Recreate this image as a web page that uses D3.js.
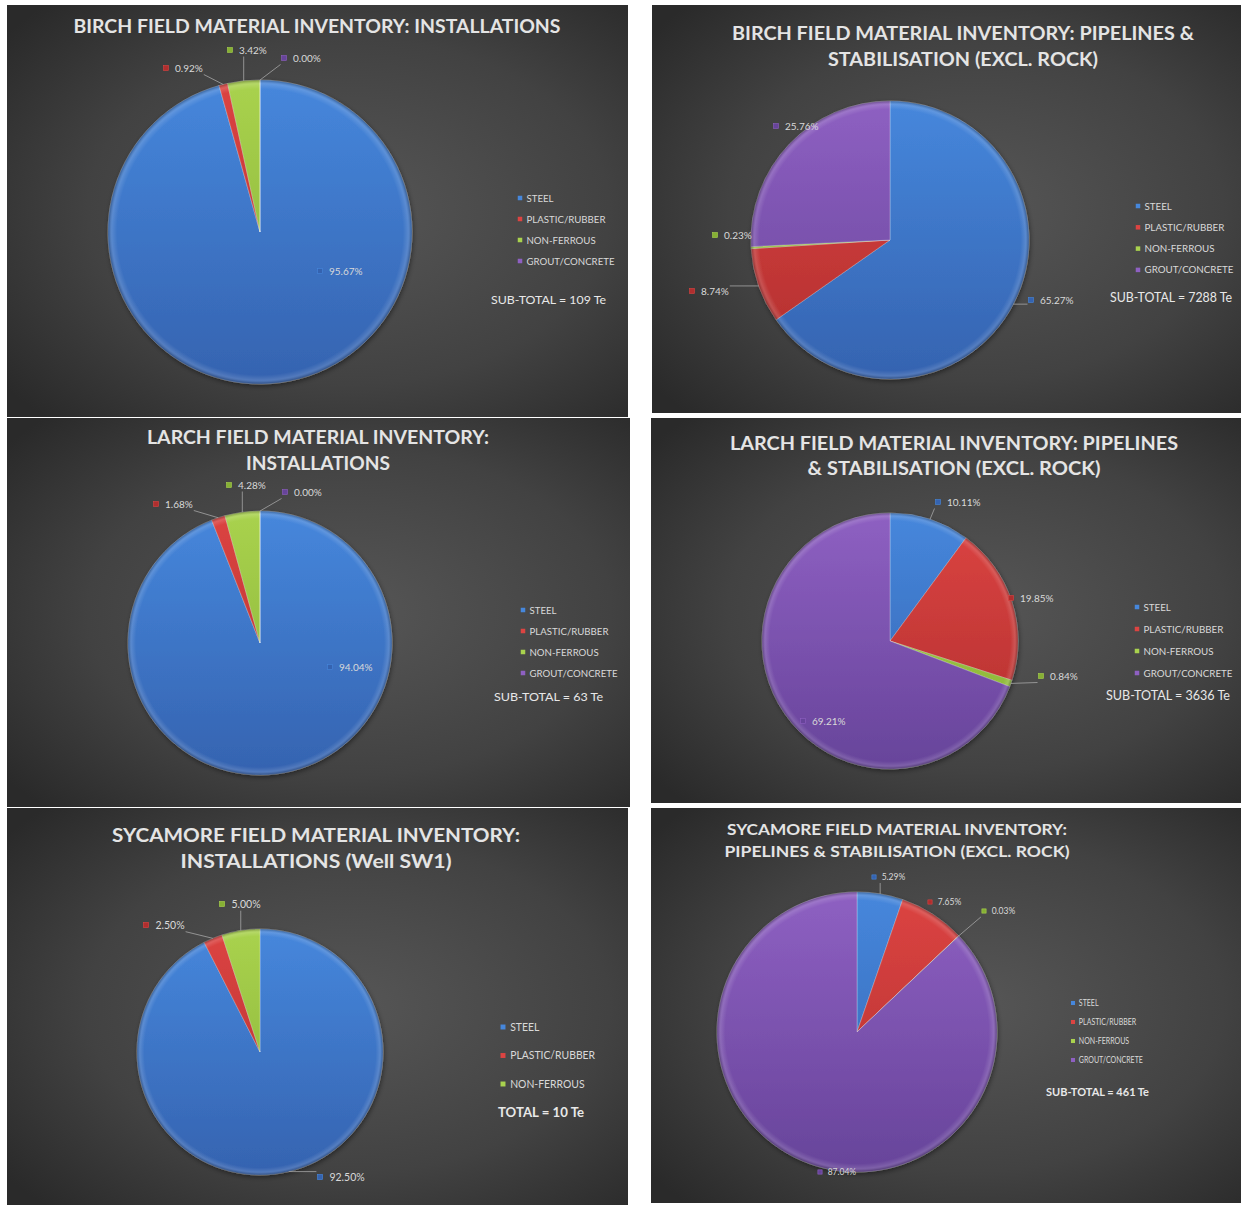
<!DOCTYPE html>
<html>
<head>
<meta charset="utf-8">
<script src="https://cdn.jsdelivr.net/npm/d3@7"></script>
<style>
  html, body { margin: 0; padding: 0; background: #ffffff; }
  svg { display: block; }
  text { font-family: Lato, "Open Sans", "Liberation Sans", sans-serif; }
</style>
</head>
<body>
<svg id="chart" width="1241" height="1205"></svg>
<script>
// ---------------- DATA ----------------
const categories = ["STEEL", "PLASTIC/RUBBER", "NON-FERROUS", "GROUT/CONCRETE"];

const birchInstallValues  = [95.67, 0.92, 3.42, 0.00];
const birchPipelineValues = [65.27, 8.74, 0.23, 25.76];
const larchInstallValues  = [94.04, 1.68, 4.28, 0.00];
const larchPipelineValues = [10.11, 19.85, 0.84, 69.21];
const sycamoreInstallValues  = [92.50, 2.50, 5.00];
const sycamorePipelineValues = [5.29, 7.65, 0.03, 87.04];

const birchInstallTitle  = ["BIRCH FIELD MATERIAL INVENTORY: INSTALLATIONS"];
const birchPipelineTitle = ["BIRCH FIELD MATERIAL INVENTORY: PIPELINES &", "STABILISATION (EXCL. ROCK)"];
const larchInstallTitle  = ["LARCH FIELD MATERIAL INVENTORY:", "INSTALLATIONS"];
const larchPipelineTitle = ["LARCH FIELD MATERIAL INVENTORY: PIPELINES", "& STABILISATION (EXCL. ROCK)"];
const sycamoreInstallTitle  = ["SYCAMORE FIELD MATERIAL INVENTORY:", "INSTALLATIONS (Well SW1)"];
const sycamorePipelineTitle = ["SYCAMORE FIELD MATERIAL INVENTORY:", "PIPELINES & STABILISATION (EXCL. ROCK)"];

const totalLabels = ["SUB-TOTAL = 109 Te", "SUB-TOTAL = 7288 Te", "SUB-TOTAL = 63 Te",
                     "SUB-TOTAL = 3636 Te", "TOTAL = 10 Te", "SUB-TOTAL = 461 Te"];

// ---------------- STYLE / LAYOUT ----------------
const colorTop    = ["#4687dc", "#dc4442", "#a9d24e", "#8e60c2"];
const colorBottom = ["#3563b0", "#b02e2e", "#86b034", "#67449a"];

// label layout: [dx, dy] of the marker relative to pie centre, and whether a leader line is drawn
const layouts = [
  { rect:[7,5,621,412], cx:260, cy:232, r:152,
    title:{ys:[33], widths:[487], x:317, size:18},
    legend:{x:520, y0:198, step:21, size:10, width:88, longest:"GROUT/CONCRETE"},
    total:{x:491, y:300, size:12, width:115},
    labelSize:10,
    labels:[[60,39,false],[-94,-164,true],[-30,-182,true],[24,-174,true]] },
  { rect:[652,5,589,408], cx:890, cy:240, r:139,
    title:{ys:[40,66], widths:[462,270], x:963, size:18},
    legend:{x:1138, y0:206, step:21.3, size:10, width:89, longest:"GROUT/CONCRETE"},
    total:{x:1110, y:298, size:12.5, width:122},
    labelSize:10,
    labels:[[141,60,true],[-198,51,true],[-175,-5,false],[-114,-114,false]] },
  { rect:[7,418,623,389], cx:260, cy:643, r:132,
    title:{ys:[444,470], widths:[342,144], x:318, size:18},
    legend:{x:523, y0:610, step:21, size:10, width:88, longest:"GROUT/CONCRETE"},
    total:{x:494, y:697, size:12, width:109},
    labelSize:10,
    labels:[[70,24,false],[-104,-139,true],[-31,-158,true],[25,-151,true]] },
  { rect:[651,418,590,385], cx:890, cy:641, r:128,
    title:{ys:[450,475], widths:[448,293], x:954, size:18},
    legend:{x:1137, y0:607, step:22, size:10, width:89, longest:"GROUT/CONCRETE"},
    total:{x:1106, y:696, size:12.5, width:124},
    labelSize:10,
    labels:[[48,-139,true],[121,-43,false],[151,35,true],[-87,80,false]] },
  { rect:[7,808,621,397], cx:260, cy:1052, r:123,
    title:{ys:[842,868], widths:[408,271], x:316, size:18},
    legend:{x:503, y0:1027, step:28.5, size:11, width:85, longest:"PLASTIC/RUBBER"},
    total:{x:498, y:1113, size:12.5, width:86, bold:true},
    labelSize:10.5,
    labels:[[60,125,true],[-114,-127,true],[-38,-148,true]] },
  { rect:[651,808,590,395], cx:857, cy:1032, r:140,
    title:{ys:[835,857], widths:[340,345], x:897, size:15.5},
    legend:{x:1073, y0:1003, step:19, size:9, width:64, longest:"GROUT/CONCRETE"},
    total:{x:1046, y:1092, size:11, width:103, bold:true},
    labelSize:8.5,
    labels:[[17,-155,true],[73,-130,false],[127,-121,true],[-37,140,false]] }
];

const panelValues = [birchInstallValues, birchPipelineValues, larchInstallValues,
                     larchPipelineValues, sycamoreInstallValues, sycamorePipelineValues];
const panelTitles = [birchInstallTitle, birchPipelineTitle, larchInstallTitle,
                     larchPipelineTitle, sycamoreInstallTitle, sycamorePipelineTitle];

// ---------------- DRAW ----------------
const svg = d3.select("#chart");
svg.append("rect").attr("width", 1241).attr("height", 1205).attr("fill", "#ffffff");
const defs = svg.append("defs");

const bg = defs.append("radialGradient").attr("id", "bgGrad")
  .attr("cx", "55%").attr("cy", "50%").attr("r", "70%");
bg.append("stop").attr("offset", "0%").attr("stop-color", "#565656");
bg.append("stop").attr("offset", "60%").attr("stop-color", "#424242");
bg.append("stop").attr("offset", "100%").attr("stop-color", "#2a2a2a");

const rim = defs.append("radialGradient").attr("id", "rimGrad")
  .attr("cx", "50%").attr("cy", "50%").attr("r", "50%");
rim.append("stop").attr("offset", "0%").attr("stop-color", "#fff").attr("stop-opacity", 0);
rim.append("stop").attr("offset", "94%").attr("stop-color", "#fff").attr("stop-opacity", 0);
rim.append("stop").attr("offset", "97.5%").attr("stop-color", "#fff").attr("stop-opacity", 0.14);
rim.append("stop").attr("offset", "100%").attr("stop-color", "#000").attr("stop-opacity", 0.3);

const shadow = defs.append("filter").attr("id", "shadow")
  .attr("x", "-20%").attr("y", "-20%").attr("width", "140%").attr("height", "140%");
shadow.append("feDropShadow").attr("dx", 1).attr("dy", 2).attr("stdDeviation", 2.5)
  .attr("flood-color", "#000").attr("flood-opacity", 0.45);

const pct = d3.format(".2f");
const pie = d3.pie().sort(null).value(d => d);

function fit(sel, w) {
  sel.attr("textLength", w).attr("lengthAdjust", "spacingAndGlyphs");
}

layouts.forEach((L, pi) => {
  const values = panelValues[pi];
  const g = svg.append("g");
  g.append("rect").attr("x", L.rect[0]).attr("y", L.rect[1])
    .attr("width", L.rect[2]).attr("height", L.rect[3]).attr("fill", "url(#bgGrad)");

  // title
  panelTitles[pi].forEach((line, i) => {
    const t = g.append("text").attr("x", L.title.x).attr("y", L.title.ys[i])
      .attr("text-anchor", "middle").attr("font-weight", 700)
      .attr("font-size", L.title.size).attr("fill", "#e4e4e4").text(line);
    fit(t, L.title.widths[i]);
  });

  // gradients for this pie (in the pie group's local coordinates)
  values.forEach((v, i) => {
    const lg = defs.append("linearGradient").attr("id", `g${pi}_${i}`)
      .attr("gradientUnits", "userSpaceOnUse")
      .attr("x1", 0).attr("x2", 0).attr("y1", -L.r).attr("y2", L.r);
    lg.append("stop").attr("offset", "0%").attr("stop-color", colorTop[i]);
    lg.append("stop").attr("offset", "100%").attr("stop-color", colorBottom[i]);
  });

  const arcs = pie(values);
  const arc = d3.arc().innerRadius(0).outerRadius(L.r);
  const pg = g.append("g").attr("transform", `translate(${L.cx},${L.cy})`);
  const slices = pg.append("g").attr("filter", "url(#shadow)");
  slices.selectAll("path").data(arcs).join("path")
    .attr("d", arc)
    .attr("fill", (d, i) => `url(#g${pi}_${i})`)
    .attr("stroke", "rgba(255,255,255,0.25)").attr("stroke-width", 1)
    .attr("stroke-linejoin", "round");
  pg.append("circle").attr("r", L.r).attr("fill", "url(#rimGrad)").attr("pointer-events", "none");

  // data labels
  arcs.forEach((d, i) => {
    const [dx, dy, leader] = L.labels[i];
    const mx = L.cx + dx, my = L.cy + dy;
    const lab = g.append("g");
    const ms = L.labelSize * 0.5;
    lab.append("rect").attr("x", mx - ms / 2).attr("y", my - ms / 2)
      .attr("width", ms).attr("height", ms).attr("fill", colorBottom[i])
      .attr("stroke", colorTop[i]).attr("stroke-width", 0.6);
    lab.append("text").attr("x", mx + L.labelSize * 0.9).attr("y", my)
      .attr("dy", "0.35em").attr("font-size", L.labelSize).attr("fill", "#d9d9d9")
      .text(pct(d.data) + "%");
    if (leader) {
      const a = (d.startAngle + d.endAngle) / 2;
      const tx = L.cx + Math.sin(a) * L.r, ty = L.cy - Math.cos(a) * L.r;
      const bb = lab.node().getBBox();
      const x0 = bb.x - 1, x1 = bb.x + bb.width + 1, y0 = bb.y - 1, y1 = bb.y + bb.height + 1;
      const sx = Math.max(x0, Math.min(x1, tx)), sy = Math.max(y0, Math.min(y1, ty));
      g.append("line").attr("x1", sx).attr("y1", sy).attr("x2", tx).attr("y2", ty)
        .attr("stroke", "#a6a6a6").attr("stroke-width", 0.8);
    }
  });

  // legend
  const lgG = g.append("g");
  const longestIdx = categories.indexOf(L.legend.longest);
  values.forEach((v, i) => {
    const y = L.legend.y0 + i * L.legend.step;
    const ms = L.legend.size * 0.45;
    lgG.append("rect").attr("x", L.legend.x - ms / 2).attr("y", y - ms / 2)
      .attr("width", ms).attr("height", ms).attr("fill", colorTop[i]);
    lgG.append("text").attr("class", "leg")
      .attr("x", L.legend.x + L.legend.size * 0.65).attr("y", y).attr("dy", "0.35em")
      .attr("font-size", L.legend.size).attr("fill", "#d9d9d9").text(categories[i]);
  });
  // scale legend texts uniformly so the longest matches the reference width
  const texts = lgG.selectAll("text.leg").nodes();
  const ref = texts[longestIdx].getComputedTextLength();
  const sxf = L.legend.width / ref;
  texts.forEach(n => {
    const w = n.getComputedTextLength();
    d3.select(n).attr("textLength", w * sxf).attr("lengthAdjust", "spacingAndGlyphs");
  });

  // total
  const tt = g.append("text").attr("x", L.total.x).attr("y", L.total.y).attr("dy", "0.35em")
    .attr("font-size", L.total.size).attr("fill", "#e8e8e8")
    .attr("font-weight", L.total.bold ? 700 : 400).text(totalLabels[pi]);
  fit(tt, L.total.width);
});
</script>
</body>
</html>
